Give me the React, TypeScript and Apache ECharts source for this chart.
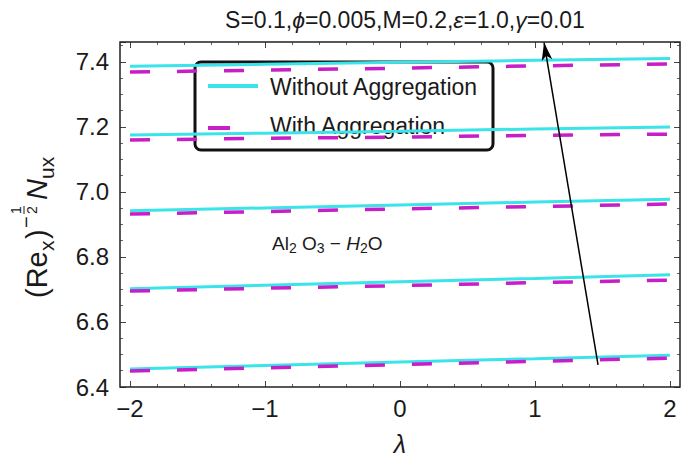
import React, { useEffect, useRef } from "react";
import * as echarts from "echarts";

const lambda = [-2, -1, 0, 1, 2];

const without1 = [7.387, 7.393, 7.399, 7.405, 7.411];
const without2 = [7.175, 7.181, 7.187, 7.194, 7.2];
const without3 = [6.942, 6.951, 6.96, 6.969, 6.978];
const without4 = [6.702, 6.713, 6.724, 6.734, 6.745];
const without5 = [6.455, 6.466, 6.477, 6.487, 6.498];

const with1 = [7.369, 7.375, 7.381, 7.388, 7.394];
const with2 = [7.16, 7.165, 7.169, 7.174, 7.178];
const with3 = [6.932, 6.94, 6.948, 6.955, 6.963];
const with4 = [6.695, 6.704, 6.712, 6.721, 6.729];
const with5 = [6.449, 6.459, 6.469, 6.479, 6.489];

const withoutSeries = [without1, without2, without3, without4, without5];
const withSeries = [with1, with2, with3, with4, with5];

const xTicks = { min: -2, max: 2, interval: 1 };
const yTicks = { min: 6.4, max: 7.4615, interval: 0.2 };

const arrowFrom = [1.467, 6.468];
const arrowTo = [1.067, 7.46];

const NAME_WITHOUT = "Without Aggregation";
const NAME_WITH = "With Aggregation";

const CYAN = "#3ae4e8";
const MAGENTA = "#c81ec8";
const FONT = "'Liberation Sans', Arial, sans-serif";
const INK = "#1a1a1a";

export default function App() {
  const ref = useRef<HTMLDivElement>(null);

  useEffect(() => {
    if (!ref.current) return;
    document.body.style.margin = "0";
    const chart = echarts.init(ref.current, null, { renderer: "svg" });

    const pairs = (ys: number[]) => lambda.map((x, i) => [x, ys[i]]);

    const series: any[] = [];
    withoutSeries.forEach((ys) => {
      series.push({
        type: "line",
        name: NAME_WITHOUT,
        data: pairs(ys),
        symbol: "none",
        lineStyle: { color: CYAN, width: 3 },
        itemStyle: { color: CYAN },
        z: 2,
      });
    });
    withSeries.forEach((ys, k) => {
      const s: any = {
        type: "line",
        name: NAME_WITH,
        data: pairs(ys),
        symbol: "none",
        lineStyle: { color: MAGENTA, width: 3.5, type: [20, 27] },
        itemStyle: { color: MAGENTA },
        z: 3,
      };
      if (k === 0) {
        s.markLine = {
          silent: true,
          symbol: ["none", "arrow"],
          symbolSize: [8, 18],
          label: { show: false },
          lineStyle: { color: "#000", width: 1.5, type: "solid" },
          data: [[{ coord: arrowFrom }, { coord: arrowTo }]],
        };
      }
      series.push(s);
    });

    const fmtX = (v: number) => (v < 0 ? "\u2212" + Math.abs(v) : String(v));
    const fmtY = (v: number) => {
      const r = Math.round(v / 0.2) * 0.2;
      return Math.abs(r - v) < 1e-6 ? v.toFixed(1) : "";
    };

    const tickCommon = {
      axisLine: { show: false, onZero: false },
      splitLine: { show: false },
      axisTick: { show: true, inside: true, length: 6, lineStyle: { color: "#444", width: 1 } },
      minorTick: { show: true, length: 3, lineStyle: { color: "#666", width: 1 } },
    };

    const option: any = {
      animation: false,
      backgroundColor: "#fff",
      title: {
        text: "{n|S=0.1,}{i|\u03d5}{n|=0.005,M=0.2,}{i|\u03b5}{n|=1.0,}{i|\u03b3}{n|=0.01}",
        left: 400,
        top: 3,
        textAlign: "center",
        textStyle: {
          rich: {
            n: { fontFamily: FONT, fontSize: 23, fontWeight: "normal", color: INK },
            i: { fontFamily: FONT, fontSize: 23, fontWeight: "normal", color: INK, fontStyle: "italic" },
          },
        },
      },
      grid: { left: 130, right: 15, top: 42, bottom: 74 },
      xAxis: [
        {
          type: "value",
          position: "bottom",
          ...xTicks,
          ...tickCommon,
          minorTick: { ...tickCommon.minorTick, splitNumber: 5 },
          axisLabel: { formatter: fmtX, fontFamily: FONT, fontSize: 24, color: INK, margin: 9 },
          name: "\u03bb",
          nameLocation: "middle",
          nameGap: 44,
          nameTextStyle: { fontFamily: FONT, fontSize: 25, fontStyle: "italic", color: INK },
        },
        {
          type: "value",
          position: "top",
          ...xTicks,
          ...tickCommon,
          minorTick: { ...tickCommon.minorTick, splitNumber: 5 },
          axisLabel: { show: false },
        },
      ],
      yAxis: [
        {
          type: "value",
          position: "left",
          offset: 10,
          ...yTicks,
          ...tickCommon,
          minorTick: { ...tickCommon.minorTick, splitNumber: 4 },
          axisLabel: {
            formatter: fmtY,
            fontFamily: FONT,
            fontSize: 24,
            color: INK,
            margin: 11,
            showMaxLabel: false,
          },
        },
        {
          type: "value",
          position: "right",
          offset: 10,
          ...yTicks,
          ...tickCommon,
          minorTick: { ...tickCommon.minorTick, splitNumber: 4 },
          axisLabel: { show: false },
        },
      ],
      series,
      graphic: [
        {
          type: "rect",
          shape: { x: 120, y: 42, width: 560, height: 345 },
          style: { fill: "none", stroke: "#222", lineWidth: 1.5 },
          z: 10,
          silent: true,
        },
        {
          type: "group",
          silent: true,
          z: 20,
          children: [
            {
              type: "rect",
              shape: { x: 195, y: 62, width: 298, height: 88, r: 6 },
              style: { fill: "none", stroke: "#111", lineWidth: 3 },
            },
            {
              type: "line",
              shape: { x1: 208, y1: 86, x2: 258, y2: 86 },
              style: { stroke: CYAN, lineWidth: 4 },
            },
            {
              type: "line",
              shape: { x1: 208, y1: 128, x2: 230, y2: 128 },
              style: { stroke: MAGENTA, lineWidth: 4 },
            },
            {
              type: "text",
              x: 270,
              y: 87,
              style: { text: NAME_WITHOUT, fontFamily: FONT, fontSize: 23, fill: INK, verticalAlign: "middle" },
            },
            {
              type: "text",
              x: 270,
              y: 126,
              style: { text: NAME_WITH, fontFamily: FONT, fontSize: 23, fill: INK, verticalAlign: "middle" },
            },
          ],
        },
        {
          type: "group",
          x: 37,
          y: 298,
          rotation: Math.PI / 2,
          silent: true,
          children: [
            { type: "text", x: 0, y: 0, style: { text: "(Re", fontFamily: FONT, fontSize: 29, fill: INK, verticalAlign: "middle" } },
            { type: "text", x: 47, y: 9, style: { text: "x", fontFamily: FONT, fontSize: 21, fill: INK, verticalAlign: "middle" } },
            { type: "text", x: 59, y: 0, style: { text: ")", fontFamily: FONT, fontSize: 29, fill: INK, verticalAlign: "middle" } },
            { type: "text", x: 70, y: -11, style: { text: "\u2212", fontFamily: FONT, fontSize: 20, fill: INK, verticalAlign: "middle" } },
            { type: "text", x: 88, y: -21, style: { text: "1", fontFamily: FONT, fontSize: 14, fill: INK, verticalAlign: "middle", align: "center" } },
            { type: "line", shape: { x1: 84, y1: -13, x2: 92, y2: -13 }, style: { stroke: INK, lineWidth: 1 } },
            { type: "text", x: 88, y: -5, style: { text: "2", fontFamily: FONT, fontSize: 14, fill: INK, verticalAlign: "middle", align: "center" } },
            { type: "text", x: 98, y: 0, style: { text: "N", fontFamily: FONT, fontSize: 29, fontStyle: "italic", fill: INK, verticalAlign: "middle" } },
            { type: "text", x: 119, y: 9, style: { text: "ux", fontFamily: FONT, fontSize: 21, fill: INK, verticalAlign: "middle" } },
          ],
        },
        {
          type: "text",
          x: 272,
          y: 243,
          silent: true,
          style: {
            text: "{n|Al}{s|2}{n| O}{s|3}{n| \u2212 }{i|H}{s|2}{n|O}",
            verticalAlign: "middle",
            rich: {
              n: { fontFamily: FONT, fontSize: 19, fill: INK },
              i: { fontFamily: FONT, fontSize: 19, fill: INK, fontStyle: "italic" },
              s: { fontFamily: FONT, fontSize: 14, fill: INK, padding: [9, 0, 0, 0] },
            },
          },
        },
      ],
    };

    chart.setOption(option);
    return () => chart.dispose();
  }, []);

  return (
    <div
      ref={ref}
      style={{ width: 685, height: 461, position: "absolute", left: 0, top: 0 }}
    />
  );
}
